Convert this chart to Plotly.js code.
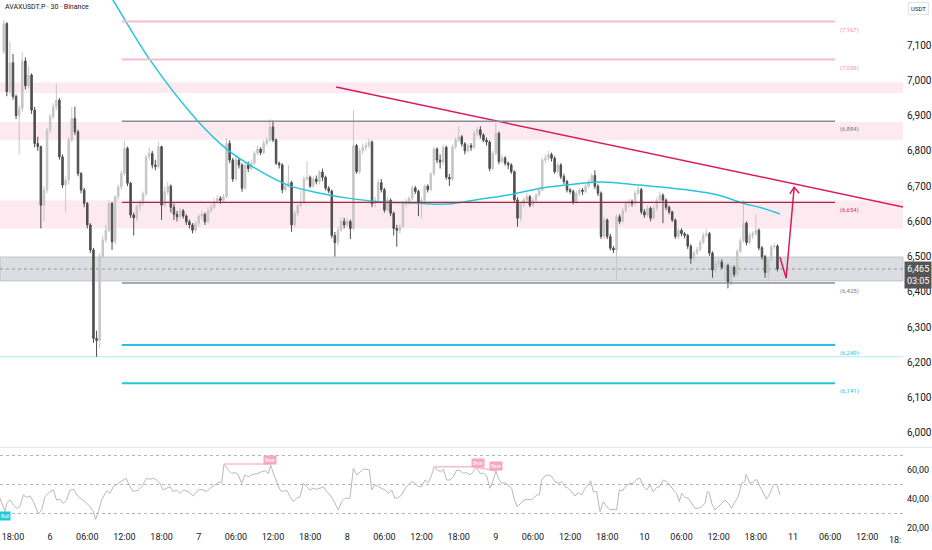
<!DOCTYPE html>
<html><head><meta charset="utf-8">
<script src="https://cdn.plot.ly/plotly-3.0.1.min.js"></script>
<style>html,body{margin:0;padding:0;background:#fff;}#chart{width:932px;height:550px;}</style>
</head><body><div id="chart"></div>
<script>
// ---------- DATA ----------
const chartTitle = "AVAXUSDT.P · 30 · Binance";
const candleStartHour = 16.5;   // day 5, 16:30 (hours counted from day 5 00:00)
const candleStepHours = 0.5;    // 30-minute candles
const firstOpen = 7081;
const closes = [
7161,6968,7050,6954,6900,6920,7055,6985,7015,6916,
6821,6812,6646,6689,6859,6897,6925,6944,6783,6703,
6717,6831,6892,6854,6736,6689,6651,6590,6519,6268,
6262,6500,6547,6575,6651,6542,6670,6698,6736,6807,
6708,6618,6610,6642,6651,6679,6783,6793,6760,6755,
6812,6646,6684,6700,6640,6620,6613,6630,6615,6599,
6590,6575,6595,6615,6620,6599,6630,6640,6655,6665,
6660,6670,6821,6774,6720,6774,6760,6694,6760,6750,
6765,6793,6805,6795,6821,6830,6868,6831,6765,6760,
6690,6700,6710,6590,6623,6645,6655,6720,6725,6700,
6720,6713,6740,6725,6694,6686,6560,6540,6575,6600,
6590,6600,6580,6815,6741,6800,6810,6815,6825,6650,
6660,6710,6690,6632,6660,6623,6580,6575,6585,6650,
6655,6665,6695,6685,6650,6660,6700,6690,6735,6805,
6774,6768,6810,6725,6720,6812,6830,6840,6820,6800,
6815,6810,6850,6860,6845,6830,6825,6750,6793,6850,
6770,6780,6765,6760,6741,6661,6609,6650,6661,6670,
6646,6660,6675,6689,6774,6779,6790,6779,6741,6760,
6727,6713,6689,6685,6655,6680,6689,6685,6700,6713,
6730,6700,6680,6557,6604,6557,6524,6519,6613,6600,
6630,6651,6656,6651,6680,6690,6627,6618,6637,6609,
6637,6660,6674,6660,6640,6627,6604,6557,6575,6565,
6560,6530,6495,6510,6520,6540,6560,6565,6510,6462,
6480,6485,6470,6475,6425,6470,6450,6515,6545,6595,
6540,6560,6565,6575,6525,6500,6455,6490,6528,6530,6465];
const highs = [
7172,7165,7110,7075,6960,6930,7080,7065,7040,7020,
6925,6840,6815,6700,6865,6905,6935,6990,6950,6790,
6730,6840,6925,6925,6860,6740,6695,6655,6595,6525,
6290,6510,6560,6590,6660,6655,6675,6705,6745,6830,
6812,6712,6625,6650,6660,6685,6790,6810,6800,6775,
6825,6815,6700,6712,6705,6650,6630,6640,6635,6620,
6605,6595,6600,6620,6632,6625,6640,6650,6665,6675,
6672,6678,6835,6830,6780,6785,6780,6765,6768,6770,
6775,6800,6815,6810,6830,6840,6890,6886,6835,6770,
6765,6710,6760,6715,6630,6650,6690,6728,6770,6730,
6728,6730,6745,6750,6730,6700,6690,6570,6585,6610,
6610,6608,6605,6915,6820,6808,6820,6825,6835,6830,
6670,6720,6720,6695,6670,6665,6628,6590,6592,6658,
6665,6672,6702,6700,6690,6668,6705,6705,6740,6812,
6810,6790,6818,6815,6735,6818,6838,6870,6845,6825,
6822,6822,6858,6868,6870,6850,6838,6830,6800,6880,
6855,6790,6785,6770,6765,6745,6668,6655,6668,6680,
6675,6668,6680,6695,6780,6790,6800,6795,6785,6768,
6765,6735,6718,6695,6690,6686,6695,6695,6706,6720,
6736,6745,6705,6685,6612,6608,6565,6530,6620,6620,
6638,6658,6664,6662,6688,6700,6695,6635,6645,6642,
6645,6668,6685,6680,6665,6645,6630,6608,6582,6580,
6570,6565,6535,6518,6528,6548,6568,6580,6570,6515,
6488,6495,6492,6482,6480,6476,6475,6522,6552,6660,
6600,6568,6572,6620,6580,6530,6505,6498,6535,6538,6535];
const lows = [
7075,6955,6960,6945,6890,6790,6910,6975,6978,6905,
6810,6800,6580,6600,6680,6850,6890,6915,6775,6695,
6625,6705,6825,6845,6728,6680,6640,6580,6510,6255,
6216,6240,6495,6540,6570,6519,6535,6660,6690,6730,
6700,6610,6560,6600,6630,6645,6670,6775,6750,6745,
6750,6604,6640,6675,6625,6604,6600,6605,6608,6590,
6580,6566,6568,6585,6605,6590,6595,6625,6635,6650,
6650,6655,6665,6765,6712,6715,6750,6684,6690,6740,
6745,6760,6788,6788,6790,6815,6825,6825,6760,6750,
6680,6685,6695,6570,6585,6615,6640,6650,6715,6695,
6695,6705,6705,6715,6688,6680,6552,6500,6530,6570,
6580,6585,6550,6575,6735,6735,6790,6800,6808,6640,
6640,6655,6682,6625,6628,6615,6560,6528,6565,6580,
6640,6648,6660,6678,6615,6610,6655,6682,6685,6730,
6765,6750,6760,6718,6700,6715,6805,6825,6812,6790,
6795,6800,6805,6842,6835,6825,6815,6742,6745,6788,
6762,6765,6758,6748,6735,6655,6585,6600,6640,6652,
6640,6640,6652,6670,6685,6765,6772,6770,6735,6735,
6720,6705,6682,6678,6648,6650,6672,6675,6680,6695,
6708,6692,6672,6550,6550,6550,6518,6510,6434,6592,
6595,6625,6640,6642,6645,6675,6620,6610,6612,6600,
6605,6630,6655,6595,6632,6620,6598,6550,6550,6558,
6552,6522,6480,6488,6505,6515,6535,6555,6502,6440,
6455,6470,6465,6430,6410,6418,6442,6445,6510,6540,
6532,6535,6550,6560,6518,6492,6440,6430,6485,6520,6458];

// RSI (hours, value)
const rsiHours = [
15.90,16.33,16.71,16.98,17.52,18.05,18.59,19.13,19.67,20.21,
20.75,21.29,22.09,22.63,23.17,23.98,24.52,25.05,25.59,26.13,
26.67,27.21,27.75,28.55,29.63,30.44,30.98,31.35,31.79,32.32,
33.13,33.67,34.21,35.02,35.82,36.26,36.90,37.44,38.25,38.79,
39.59,40.13,40.67,41.21,41.75,42.29,42.83,43.36,43.90,44.44,
44.98,45.52,46.33,47.13,47.67,48.21,48.75,49.29,49.83,50.63,
51.44,51.71,52.09,52.79,53.33,53.86,54.40,54.94,55.48,56.02,
56.56,57.10,57.63,58.17,58.71,59.25,59.63,60.06,60.60,61.13,
61.67,62.21,62.75,63.29,63.83,64.37,64.90,65.44,65.98,66.52,
67.06,67.60,68.13,68.67,69.21,69.75,70.29,70.56,71.10,71.64,
72.44,72.98,73.52,74.06,74.60,75.14,75.57,75.94,76.48,77.02,
77.56,78.10,78.64,79.17,79.71,80.25,80.79,81.33,81.87,82.41,
82.95,83.48,84.02,84.56,85.10,85.64,86.01,86.55,87.09,87.52,
88.06,88.60,89.14,89.68,90.21,90.75,91.29,91.83,
92.36,92.90,93.44,93.98,94.52,95.06,95.59,96.03,96.40,96.94,
97.48,98.02,98.56,98.93,99.47,100.01,100.55,101.09,101.63,102.06,
102.60,103.03,103.40,103.94,104.48,105.02,105.56,106.10,106.63,107.17,
107.71,108.25,108.79,109.33,109.87,110.40,110.94,111.32,111.75,112.29,
112.83,113.37,113.90,114.44,114.98,115.52,115.95,116.49,117.03,117.67,
118.21,118.75,119.29,119.83,120.37,120.91,121.44,121.98,122.52,123.06,
123.60,124.14,124.68,125.21,125.64,126.02,126.56,127.10,127.64,128.17,
128.71,129.25,129.79,130.17,130.49,130.87,131.41,131.94,132.48,133.02,
133.56,134.10,134.64,135.17,135.71,136.25,136.41,137.06,137.60,138.14,
138.68,139.22,139.75,140.29,140.83,141.37,141.91];
const rsiValues = [
40.5,35.9,31.3,37.0,39.3,35.9,33.6,34.7,42.8,41.1,
42.1,38.2,29.7,32.4,41.6,45.1,46.2,39.3,39.8,37.0,
39.3,46.2,46.7,41.6,38.2,34.7,31.3,26.0,31.3,39.3,
45.7,43.9,48.5,50.8,53.1,54.3,48.5,45.1,46.2,48.5,
54.3,53.6,54.3,53.1,50.8,46.2,47.4,48.5,45.1,46.2,
43.9,46.2,45.1,42.1,45.1,46.7,46.2,45.1,47.4,49.7,
52.0,50.8,64.1,60.0,57.7,58.2,56.6,50.8,56.6,55.4,
56.6,57.2,57.7,58.9,59.5,57.7,63.4,57.7,52.0,46.2,
45.1,46.2,41.6,38.2,40.5,41.6,50.8,48.5,46.2,47.4,
46.7,47.4,48.5,45.1,42.8,39.3,34.7,32.4,38.2,40.5,
40.5,61.1,56.6,58.9,60.5,60.5,60.0,46.2,49.7,48.5,
47.4,46.2,43.9,46.2,40.5,41.1,42.8,47.4,49.7,52.0,
50.8,48.5,48.5,53.1,51.3,56.6,61.8,60.0,58.9,60.5,
53.1,53.1,55.4,60.0,59.5,57.7,58.2,56.6,
58.9,61.8,57.7,57.7,55.9,47.4,53.1,59.5,54.3,50.8,
51.3,49.0,47.4,40.5,34.7,37.0,39.3,39.8,39.3,40.5,
42.8,42.8,53.1,55.9,56.6,55.4,52.0,50.8,52.0,48.5,
47.4,45.1,42.1,44.4,42.8,47.4,49.7,52.6,45.1,45.1,
31.3,38.2,34.7,32.4,32.9,32.4,46.2,45.7,49.0,50.8,
50.8,53.6,54.3,48.5,46.2,49.7,45.1,48.0,48.5,53.1,
52.0,49.7,46.2,43.9,38.2,43.9,41.1,40.5,37.0,33.6,
33.6,34.7,37.0,45.1,44.4,37.0,32.4,34.7,37.0,39.3,
37.0,33.6,38.2,41.6,50.8,52.0,57.0,50.8,52.0,53.6,
48.5,43.9,39.8,43.9,49.7,50.3,42.8];
const rsiLevels = [70, 50, 30];

// drawings
const levelPrices = [7167, 7059, 6884, 6654, 6425, 6249, 6141];
const levelLabels = ["(7,167)", "(7,059)", "(6,884)", "(6,654)", "(6,425)", "(6,249)", "(6,141)"];
const levelStartHour = 35.6, levelEndHour = 150.8;
const pinkZoneLows  = [6964, 6830, 6580];
const pinkZoneHighs = [6995, 6882, 6660];
const grayZoneLow = 6431, grayZoneHigh = 6499;
const swingLowPrice = 6216;
const lastPrice = 6465;
const lastPriceLabel = "6,465";
const countdownLabel = "03:05";
const curveHours  = [32.86,34.16,40.13,47.73,52.73,57.10,62.40,67.60,72.10,77.60,82.90,88.30,93.40,98.00,103.50,108.80,113.20,119.30,127.05,131.90,135.80,139.00,141.90];
const curvePrices = [7265,7228,7058,6887,6802,6751,6703,6680,6666,6655,6652,6649,6663,6675,6695,6706,6712,6703,6689,6675,6652,6638,6621];
const trendHours  = [70.2, 161.8];
const trendPrices = [6981, 6641];
const arrowHours  = [141.9, 142.9, 144.2];
const arrowPrices = [6499, 6439, 6697];
const arrowHeadHours  = [143.5, 144.2, 145.0];
const arrowHeadPrices = [6678, 6697, 6680];
const divergenceLines = [
  {h:[52.09, 59.63], v:[64.1, 64.1]},
  {h:[86.01, 92.90], v:[62.3, 62.3]},
  {h:[92.90, 96.03], v:[61.8, 59.5]}
];
const bearLabelHours = [59.5, 93.1, 96.0];
const bearLabelValues = [66.9, 65.0, 62.8];
const bullLabelHour = 16.7, bullLabelValue = 28.3;

// axes
const xTickHours  = [18,24,30,36,42,48,54,60,66,72,78,84,90,96,102,108,114,120,126,132,138,144,150,156];
const xTickLabels = ["18:00","6","06:00","12:00","18:00","7","06:00","12:00","18:00","8","06:00","12:00","18:00","9","06:00","12:00","18:00","10","06:00","12:00","18:00","11","06:00","12:00"];
const priceTicks = [6000,6100,6200,6300,6400,6500,6600,6700,6800,6900,7000,7100];
const priceTickLabels = ["6,000","6,100","6,200","6,300","6,400","6,500","6,600","6,700","6,800","6,900","7,000","7,100"];
const rsiTicks = [20, 40, 60];
const rsiTickLabels = ["20,00","40,00","60,00"];

// ---------- BUILD ----------
const times = closes.map((_, i) => candleStartHour + i * candleStepHours);
const opens = [firstOpen].concat(closes.slice(0, -1));

const levelColors = ['#f8bbd0','#f8bbd0','#8a8d96','#a3283c','#8a8d96','#26c6da','#26c6da'];
const levelWidths = [2, 2, 1.5, 1.3, 1.5, 2, 2];
const levelTextColors = ['#f48fb1','#f48fb1','#787b86','#d6336c','#787b86','#26c6da','#26c6da'];

const traces = [];
traces.push({
  type:'candlestick', x:times, open:opens, high:highs, low:lows, close:closes,
  increasing:{line:{color:'#c6c6c6', width:1}, fillcolor:'#c6c6c6'},
  decreasing:{line:{color:'#4e4e4e', width:1}, fillcolor:'#4e4e4e'},
  whiskerwidth:0, hoverinfo:'skip', xaxis:'x', yaxis:'y'
});
traces.push({type:'scatter', mode:'lines', x:curveHours, y:curvePrices, line:{color:'#26c6da', width:1.5, shape:'spline'}, hoverinfo:'skip', xaxis:'x', yaxis:'y'});
traces.push({type:'scatter', mode:'lines', x:trendHours, y:trendPrices, line:{color:'#d81b60', width:1.5}, hoverinfo:'skip', xaxis:'x', yaxis:'y'});
traces.push({type:'scatter', mode:'lines', x:arrowHours, y:arrowPrices, line:{color:'#d81b60', width:1.5}, hoverinfo:'skip', xaxis:'x', yaxis:'y'});
traces.push({type:'scatter', mode:'lines', x:arrowHeadHours, y:arrowHeadPrices, line:{color:'#d81b60', width:1.5}, hoverinfo:'skip', xaxis:'x', yaxis:'y'});
traces.push({type:'scatter', mode:'lines', x:rsiHours, y:rsiValues, line:{color:'#b9b9b9', width:1}, hoverinfo:'skip', xaxis:'x', yaxis:'y2'});
divergenceLines.forEach(d => traces.push({type:'scatter', mode:'lines', x:d.h, y:d.v, line:{color:'#f8bbd0', width:1.5}, hoverinfo:'skip', xaxis:'x', yaxis:'y2'}));

const shapes = [];
pinkZoneLows.forEach((lo, i) => shapes.push({type:'rect', xref:'paper', yref:'y', x0:0, x1:1, y0:lo, y1:pinkZoneHighs[i], fillcolor:'rgba(248,187,208,0.30)', line:{width:0}, layer:'below'}));
shapes.push({type:'rect', xref:'paper', yref:'y', x0:0, x1:1, y0:grayZoneLow, y1:grayZoneHigh, fillcolor:'rgba(170,173,182,0.42)', line:{width:1, color:'rgba(170,173,182,0.6)'}, layer:'below'});
shapes.push({type:'line', xref:'paper', yref:'y', x0:0, x1:1, y0:swingLowPrice, y1:swingLowPrice, line:{color:'#b2ebf2', width:1}, layer:'below'});
shapes.push({type:'line', xref:'paper', yref:'y', x0:0, x1:1, y0:lastPrice, y1:lastPrice, line:{color:'#9598a1', width:1, dash:'dot'}, layer:'below'});
levelPrices.forEach((p, i) => shapes.push({type:'line', xref:'x', yref:'y', x0:levelStartHour, x1:levelEndHour, y0:p, y1:p, line:{color:levelColors[i], width:levelWidths[i]}, layer:'above'}));
rsiLevels.forEach(v => shapes.push({type:'line', xref:'paper', yref:'y2', x0:0, x1:1, y0:v, y1:v, line:{color:'#b2b5be', width:1, dash:'dot'}, layer:'below'}));
shapes.push({type:'line', xref:'paper', yref:'paper', x0:0, x1:1.035, y0:0.1562, y1:0.1562, line:{color:'#e0e3eb', width:1}});

const annotations = [];
annotations.push({xref:'paper', yref:'paper', x:0.003, y:0.998, xanchor:'left', yanchor:'top', text:chartTitle, showarrow:false, font:{size:7, color:'#131722'}});
annotations.push({xref:'paper', yref:'paper', x:1.005, y:0.996, xanchor:'left', yanchor:'top', text:'USDT', showarrow:false, font:{size:6, color:'#131722'}, bordercolor:'#e0e3eb', borderwidth:1, borderpad:2, bgcolor:'#fff'});
levelPrices.forEach((p, i) => annotations.push({xref:'x', yref:'y', x:151.3, y:p, xanchor:'left', yanchor:'top', yshift:-2, text:levelLabels[i], showarrow:false, font:{size:6, color:levelTextColors[i]}}));
annotations.push({xref:'paper', yref:'y', x:1.0015, y:6447, xanchor:'left', yanchor:'middle', text:lastPriceLabel + '<br>' + countdownLabel, showarrow:false, align:'center', font:{size:9, color:'#ffffff'}, bgcolor:'#555555', borderpad:2});
bearLabelHours.forEach((h, i) => annotations.push({xref:'x', yref:'y2', x:h, y:bearLabelValues[i], text:'Bear', showarrow:false, font:{size:5, color:'#ffffff'}, bgcolor:'#f8a5c2', borderpad:1}));
annotations.push({xref:'x', yref:'y2', x:bullLabelHour, y:bullLabelValue, text:'Bull', showarrow:false, font:{size:5, color:'#ffffff'}, bgcolor:'#26c6da', borderpad:1});
annotations.push({xref:'paper', yref:'paper', x:1.0, y:0, xanchor:'right', yanchor:'top', yshift:-3, text:'18:', showarrow:false, font:{size:9, color:'#131722'}});

const layout = {
  width:932, height:550, margin:{l:0, r:29, t:0, b:20},
  paper_bgcolor:'#ffffff', plot_bgcolor:'#ffffff', showlegend:false,
  font:{family:'Roboto, "Liberation Sans", sans-serif', color:'#131722', size:9},
  xaxis:{range:[15.9, 161.78], anchor:'y2', tickmode:'array', tickvals:xTickHours, ticktext:xTickLabels,
         showgrid:false, zeroline:false, showline:false, ticks:'', rangeslider:{visible:false}, tickfont:{size:9, color:'#131722'}, fixedrange:true},
  yaxis:{domain:[0.1566, 1], range:[5960, 7228], side:'right', anchor:'x', tickmode:'array', tickvals:priceTicks, ticktext:priceTickLabels,
         showgrid:false, zeroline:false, showline:false, ticks:'', tickfont:{size:10, color:'#131722'}, ticklabelstandoff:3},
  yaxis2:{domain:[0, 0.1547], range:[18.62, 75.17], side:'right', anchor:'x', tickmode:'array', tickvals:rsiTicks, ticktext:rsiTickLabels,
          showgrid:false, zeroline:false, showline:false, ticks:'', tickfont:{size:9, color:'#131722'}, ticklabelstandoff:3},
  shapes:shapes, annotations:annotations
};
Plotly.newPlot('chart', traces, layout, {displayModeBar:false, staticPlot:true});
</script>
</body></html>
